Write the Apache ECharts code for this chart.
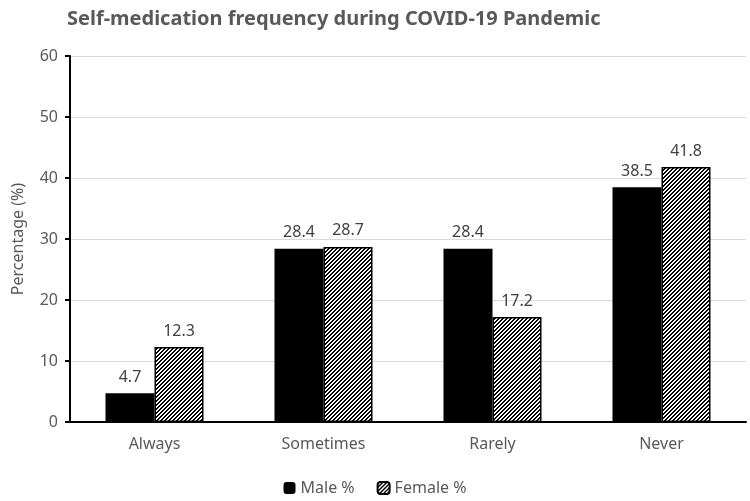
<!DOCTYPE html>
<html>
<head>
<meta charset="utf-8">
<script src="https://cdn.jsdelivr.net/npm/echarts@6/dist/echarts.min.js"></script>
<style>
  html, body { margin: 0; padding: 0; background: #fff; }
  #chart { width: 750px; height: 501px; }
</style>
</head>
<body>
<div id="chart"></div>
<script>
var categories = ['Always', 'Sometimes', 'Rarely', 'Never'];
var maleValues = [4.7, 28.4, 28.4, 38.5];
var femaleValues = [12.3, 28.7, 17.2, 41.8];

// hatched fill for female bars
function makeHatch() {
  var c = document.createElement('canvas');
  var n = 4;
  c.width = n; c.height = n;
  var ctx = c.getContext('2d');
  var img = ctx.createImageData(n, n);
  for (var y = 0; y < n; y++) {
    for (var x = 0; x < n; x++) {
      var i = (y * n + x) * 4;
      var v = ((x + y) % n) < 2 ? 0 : 255;
      img.data[i] = v; img.data[i + 1] = v; img.data[i + 2] = v; img.data[i + 3] = 255;
    }
  }
  ctx.putImageData(img, 0, 0);
  return c;
}

var font = 'Noto Sans';
var chart = echarts.init(document.getElementById('chart'));
chart.setOption({
  animation: false,
  title: {
    text: 'Self-medication frequency during COVID-19 Pandemic',
    left: 62, top: 4,
    textStyle: { fontFamily: font, fontSize: 20, fontWeight: 'bold', color: '#595959' }
  },
  legend: {
    bottom: 0, left: 'center',
    itemWidth: 12, itemHeight: 12, itemGap: 22,
    textStyle: { fontFamily: font, fontSize: 16, color: '#595959' },
    data: ['Male %', 'Female %']
  },
  grid: { left: 70, right: 4, top: 56, bottom: 79 },
  xAxis: {
    type: 'category',
    data: categories,
    axisLine: { lineStyle: { color: '#000', width: 2 } },
    axisTick: { show: false },
    axisLabel: { fontFamily: font, fontSize: 16, color: '#595959', margin: 14 }
  },
  yAxis: {
    type: 'value',
    min: 0, max: 60, interval: 10,
    name: 'Percentage (%)',
    nameLocation: 'middle',
    nameGap: 44,
    nameTextStyle: { fontFamily: font, fontSize: 16, color: '#595959' },
    axisLine: { show: true, lineStyle: { color: '#000', width: 2 } },
    axisTick: { show: true, length: 5, lineStyle: { color: '#000', width: 2 } },
    axisLabel: { fontFamily: font, fontSize: 16, color: '#595959', margin: 12 },
    splitLine: { lineStyle: { color: '#d9d9d9', width: 1 } }
  },
  series: [
    {
      name: 'Male %',
      type: 'bar',
      data: maleValues,
      barGap: '0%',
      barCategoryGap: '42%',
      itemStyle: { color: '#000' },
      label: { show: true, position: 'top', distance: 8, fontFamily: font, fontSize: 16, color: '#404040' }
    },
    {
      name: 'Female %',
      type: 'bar',
      data: femaleValues,
      itemStyle: {
        color: { image: makeHatch(), repeat: 'repeat' },
        borderColor: '#000',
        borderWidth: 1.5
      },
      label: { show: true, position: 'top', distance: 8, fontFamily: font, fontSize: 16, color: '#404040' }
    }
  ]
});
</script>
</body>
</html>
